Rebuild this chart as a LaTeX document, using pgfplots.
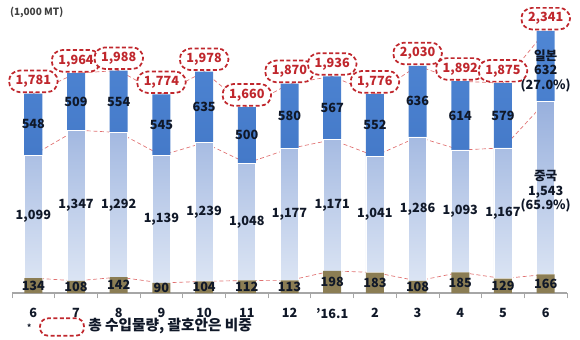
\documentclass[border=0pt]{standalone}
\usepackage{pgfplots}
\pgfplotsset{compat=1.18}
\usepackage{pgfplotstable}
\usepackage{fontspec}
\setmainfont{Noto Sans CJK KR}
\definecolor{oliv}{HTML}{8B7D54}
\definecolor{jtop}{HTML}{4F86D4}
\definecolor{jbot}{HTML}{4479C8}
\definecolor{ctop}{HTML}{98B0DD}
\definecolor{cbot}{HTML}{DCE5F4}
\definecolor{lred}{HTML}{E07070}
\definecolor{bred}{HTML}{C0272D}
\definecolor{lbl}{HTML}{101828}
\pgfplotstableread{
x o c j
0 134 1099 548
1 108 1347 509
2 142 1292 554
3 90 1139 545
4 104 1239 635
5 112 1048 500
6 113 1177 580
7 198 1171 567
8 183 1041 552
9 108 1286 636
10 185 1093 614
11 129 1167 579
12 166 1543 632
}\data
\pgfplotsset{
  base/.style={scale only axis, width=416.25pt, height=219.75pt,
    xmin=-0.5, xmax=12.5, ymin=0, ymax=2618,
    at={(9pt,34.5pt)}, anchor=south west, clip=false},
  /pgf/number format/assume math mode=true,
  /pgf/number format/1000 sep={,},
}
\begin{document}
\begin{tikzpicture}
\useasboundingbox (0,0) rectangle (435pt,254.25pt);
% series lines (under bars)
\begin{axis}[base, hide axis]
\addplot[lred, densely dashed, line width=0.5pt] table[x=x, y=o]{\data};
\addplot[lred, densely dashed, line width=0.5pt] table[x=x, y expr=\thisrow{o}+\thisrow{c}]{\data};
\addplot[lred, densely dashed, line width=0.5pt] table[x=x, y expr=\thisrow{o}+\thisrow{c}+\thisrow{j}]{\data};
\end{axis}
% bars
\begin{axis}[base, ybar stacked, bar width=13.5pt,
  axis y line=none, axis x line*=bottom,
  x axis line style={-, draw=gray!70, line width=0.8pt},
  xtick={0,...,12},
  xticklabels={6,7,8,9,10,11,12,'16.1,2,3,4,5,6},
  major tick length=0pt,
  minor xtick={-0.5,0.5,...,12.5},
  minor tick length=4pt, tick align=outside,
  minor tick style={gray!70, line width=0.6pt},
  xticklabel style={font=\bfseries\fontsize{9.5}{10}\selectfont, text=lbl, yshift=-8pt}]
\addplot[fill=oliv, draw=none] table[x=x, y=o]{\data};
\addplot[draw=white, line width=0.5pt, top color=ctop, bottom color=cbot] table[x=x, y=c]{\data};
\addplot[draw=none, top color=jtop, bottom color=jbot] table[x=x, y=j]{\data};
\end{axis}
% labels
\begin{axis}[base, hide axis, nodes near coords, point meta=explicit,
  every node near coord/.append style={font=\bfseries\fontsize{9.5}{11}\selectfont, text=lbl, anchor=center, align=center}]
\addplot[draw=none] table[x=x, y expr=\thisrow{o}/2, meta=o]{\data};
\addplot[draw=none, skip coords between index={12}{13}] table[x=x, y expr=\thisrow{o}+\thisrow{c}/2, meta=c]{\data};
\addplot[draw=none, skip coords between index={12}{13}] table[x=x, y expr=\thisrow{o}+\thisrow{c}+\thisrow{j}/2, meta=j]{\data};
\addplot[draw=none, skip coords between index={0}{12}, nodes near coords={중국\\1,543\\(65.9\%)}] table[x=x, y expr=\thisrow{o}+\thisrow{c}/2-30, meta=c]{\data};
\addplot[draw=none, skip coords between index={0}{12}, nodes near coords={일본\\632\\(27.0\%)}] table[x=x, y expr=\thisrow{o}+\thisrow{c}+\thisrow{j}/2-40, meta=j]{\data};
\addplot[draw=none, every node near coord/.append style={anchor=south, yshift=0.5pt, text=bred, draw=bred, fill=white, dashed, dash pattern=on 3pt off 1.8pt, line width=1.3pt, rounded corners=8pt, inner xsep=5pt, inner ysep=3.5pt}]
  table[x=x, y expr=\thisrow{o}+\thisrow{c}+\thisrow{j}, meta expr=\thisrow{o}+\thisrow{c}+\thisrow{j}]{\data};
\end{axis}
\node[anchor=west, font=\bfseries\fontsize{7.5}{8}\selectfont, text=darkgray] at (4pt,245pt) {(1,000 MT)};
\node[font=\bfseries\fontsize{6}{7}\selectfont, text=lbl] at (22pt,9pt) {*};
\draw[bred, line width=1.3pt, dash pattern=on 3pt off 1.8pt, rounded corners=6pt] (30pt,2.5pt) rectangle (63pt,15.5pt);
\node[anchor=west, font=\bfseries\fontsize{11}{12}\selectfont, text=lbl, inner sep=0pt] at (66pt,9.5pt) {총 수입물량, 괄호안은 비중};
\end{tikzpicture}
\end{document}
